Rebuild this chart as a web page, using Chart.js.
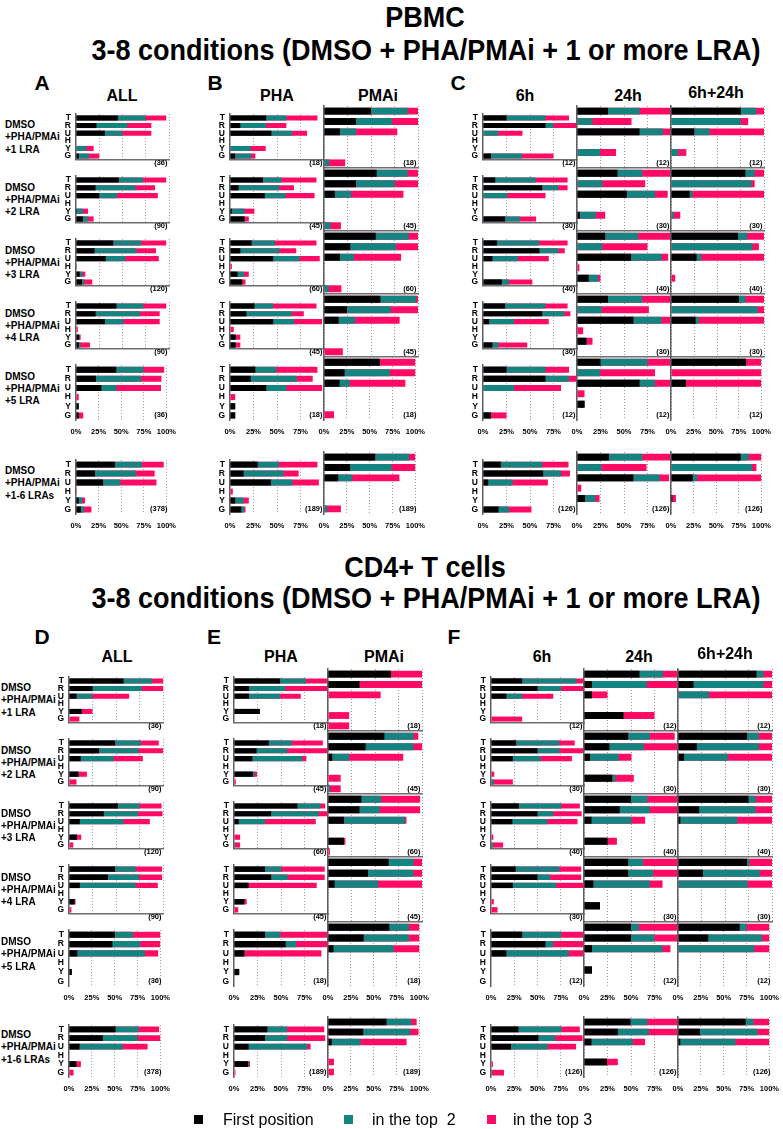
<!DOCTYPE html>
<html>
<head>
<meta charset="utf-8">
<script src="https://cdn.jsdelivr.net/npm/chart.js@4.4.1/dist/chart.umd.min.js"></script>
<style>
  body { margin: 0; width: 783px; height: 1129px; position: relative; background: #fff; overflow: hidden;
         font-family: 'Liberation Sans', Arial, sans-serif; color: #000; }
  canvas { position: absolute; }
  .lbl { position: absolute; white-space: pre; line-height: 1; }
</style>
</head>
<body>
<script>
// ---- categories / labels ----
const categories = ['T', 'R', 'U', 'H', 'Y', 'G'];
const rowNames = ['+1 LRA', '+2 LRA', '+3 LRA', '+4 LRA', '+5 LRA', '+1-6 LRAs'];
const columnNames = ['ALL', 'PHA', 'PMAi', '6h', '24h', '6h+24h'];
const countsAll = [36, 90, 120, 90, 36, 378];
const countsStim = [18, 45, 60, 45, 18, 189];
const countsTime = [12, 30, 40, 30, 12, 126];
const xTickValues = [0, 25, 50, 75, 100];

// ---- PBMC (% cumulative: first / top 2 / top 3), rows = 1..5 LRA, 1-6 LRAs; values T,R,U,H,Y,G ----
const pbmcAllFirst = [[45,22,31,0,0,3],[46,21,25,0,1,7.5],[40,20,32,0,4,6.5],[43.5,21,31,0,3.5,3],[44.5,22,28,0,3,3],[43,21,30,0,3,5.5]];
const pbmcAllTop2  = [[75,55,50,0,11,14],[72,64,44,0,7.5,13],[70,65,53,0,7,9],[72.5,69,51,0,3.5,5],[74.5,72,44.5,0,3,3],[73,66,49,0,7,9]];
const pbmcAllTop3  = [[97,81,81,0,19,25],[97,85,88,0,13,19],[97,86,89,1,10,17.5],[97,90,90,2,5,15],[97.5,94.5,94,3,3,8],[97,87,89,1,10,17]];

const pbmcPhaFirst = [[38.5,11,44,0,0,5.5],[35,9,37,0,2,15.5],[23,11,46,0,8,13],[26,17.5,46,0,6,6],[27,22,38.5,0,5.5,5.5],[29.5,14.5,43.5,0,5.5,12]];
const pbmcPhaTop2  = [[60,38.5,66,0,22,22.5],[55,52.5,59,0,15.5,15.5],[48,52.5,74,0,15,13],[46,65.5,68,0,6,6],[49.5,71,60,0,5.5,5.5],[52,57,66.5,0,14.5,15]];
const pbmcPhaTop3  = [[93,60,82,0,38,27],[92,68,90,0,26,20],[92,70.5,95.5,2,20,16.5],[92,78.5,98,4,11,11],[93,88,98,5.5,5.5,5.5],[93,73,94.5,3,20,16.5]];

const pbmcPmaiFirst = [[50,34,17,0,0,0],[56,34,11.5,0,0,0],[55,28,17,0,0,0],[60,24.5,15.5,0,0,0],[61,22.5,17,0,0,0],[56,28.5,15.5,0,0,0]];
const pbmcPmaiTop2  = [[89,72.5,34,0,0,5.5],[89,75.5,29,0,0,7],[90,76.5,32,0,0,5],[98,71,33,0,0,0],[61,72,28,0,0,0],[93,74,31,0,0,3.5]];
const pbmcPmaiTop3  = [[100,100,78,0,0,22.5],[100,100,84.5,0,0,18],[100,100,82,0,0,18.5],[100,100,80.5,0,0,20],[100,100,89,0,0,11],[100,100,82.5,0,0,18.5]];

const pbmc6hFirst = [[25,66.5,0,0,0,8.5],[13,63,0,0,0,23.5],[15,60,10,0,0,20],[23.5,63,6.5,0,0,10],[25,66.5,0,0,0,8.5],[19,64,5.5,0,0,16.5]];
const pbmc6hTop2  = [[66.5,75,16.5,0,0,41.5],[56,80,26,0,0,39.5],[60,80,37,0,0,27.5],[66.5,86.5,33,0,0,16.5],[66.5,91.5,33,0,0,8.5],[63,83,31.5,0,0,27.5]];
const pbmc6hTop3  = [[91.5,100,42,0,0,75],[90,90,66.5,0,0,56.5],[90,87,70,0,0,52.5],[90,93,70,0,0,47],[91.5,100,83,0,0,25],[91,92.5,69,0,0,51.5]];

const pbmc24hFirst = [[33,0,66.5,0,0,0],[43,0,53,0,3,0],[30,0,57.5,0,12.5,0],[33,0,60,0,10,0],[25,0,66.5,0,8,0],[34,0,60,0,8.5,0]];
const pbmc24hTop2  = [[66.5,16.5,91.5,0,24.5,0],[69.5,27,83,0,20,0],[65,27,90,0,22.5,0],[69.5,26.5,90,0,10,0],[75,24.5,83,0,8,0],[69.5,26,88,0,19.5,0]];
const pbmc24hTop3  = [[100,58,99,0,41.5,0],[100,72.5,96.5,0,30,0],[100,75,97,2.5,25,0],[100,76.5,99,6.5,16.5,0],[100,83,100,8,8,0],[100,74,98,4.5,24,0]];

const pbmcBothFirst = [[75,0,25,0,0,0],[80,0,20,0,0,0],[72,0,27.5,0,0,0],[73,0,26.5,0,0,0],[83,0,16.5,0,0,0],[77,0,24,0,1.5,0]];
const pbmcBothTop2  = [[91.5,75,41.5,0,7.5,0],[90,86.5,23,0,3,0],[82,87.5,32.5,0,0,0],[80,93,30,0,0,0],[83,0,16.5,0,0,0],[86,89.5,29,0,1.5,0]];
const pbmcBothTop3  = [[100,83,100,0,16.5,0],[100,90,100,0,10,0],[100,94.5,100,0,4.5,0],[100,100,100,0,0,0],[100,100,100,0,0,0],[100,94.5,100,0,5.5,0]];

// ---- CD4+ T cells ----
const cd4AllFirst = [[58,25,8,0,13.5,0],[49,32,12.5,0,10,0],[52,37,11.5,0,8.5,0],[49,41.5,11.5,0,6,0],[50,47.5,9,0,3,0],[51,37,11.5,0,8,0]];
const cd4AllTop2  = [[88.5,77.5,25,0,13.5,0],[76.5,74,47.5,0,10.5,0],[75,73.5,58,0,8.5,0],[71,74.5,71,0,6,0],[70,78,83,0,3,0],[76,75,59,0,8,0]];
const cd4AllTop3  = [[100,100,64,0,25,11],[95.5,100,78.5,0,19,8],[98.5,99.5,86,0,13,4.5],[99,99,94.5,0,7,2.5],[100,100,97.5,0,3,0],[98.5,100,86,0,13,5]];

const cd4PhaFirst = [[49,16,16,0,27.5,0],[37,24,19.5,0,20,0],[67.5,39.5,5,0,0,0],[33,39.5,15.5,0,11,0],[33,55,11,0,5.5,0],[35.5,33,15.5,0,15,0]];
const cd4PhaTop2  = [[76.5,54.5,49,0,27.5,0],[61.5,56.5,72.5,0,22,0],[92,90,33,0,0,1.5],[50.5,57,15.5,0,11,0],[49.5,66,11,0,5.5,0],[56.5,56.5,78,0,16,0]];
const cd4PhaTop3  = [[100,100,71,0,27.5,0],[94.5,100,77,0,24.5,2],[97,100,87,0,6.5,6.5],[96.5,96.5,88,0,13.5,4.5],[100,100,93,0,5.5,0],[96,97,81.5,0,17,1.5]];

const cd4PmaiFirst = [[67,33.5,0,0,0,0],[60,40,4.5,0,0,0],[35.5,33.5,17,0,17,0],[64.5,42.5,7,0,0,0],[67,39,6,0,0,0],[64,38.5,4,0,0,0]];
const cd4PmaiTop2  = [[67,33.5,0,0,0,0],[91,91,22.5,0,0,2.5],[56.5,55,82,0,17,0],[91,91,53.5,0,0,0],[88.5,88.5,72,0,0,0],[91,90,35.5,0,0,0]];
const cd4PmaiTop3  = [[100,100,56,0,22.5,22.5],[96,100,80,0,13.5,13.5],[98,98,83.5,0,18.5,2],[100,100,100,0,0,0],[100,100,100,0,0,0],[97,99,86,0,6.5,6.5]];

const cd46hFirst = [[33.5,50,16.5,0,0,0],[27,50,23.5,0,0,0],[30,50,23,0,0,0],[26.5,50,23.5,0,0,0],[33.5,58.5,16.5,0,0,0],[29.5,51,21.5,0,0,0]];
const cd46hTop2  = [[92,75.5,33.5,0,0,0],[73.5,73.5,53.5,0,0,3],[75.5,67,60.5,0,0,2.5],[73.5,63.5,70,0,0,0],[75.5,67,83.5,0,0,0],[76,69,61,0,0,1.5]];
const cd46hTop3  = [[100,100,67,0,0,33.5],[90,100,87,0,3.5,23.5],[95.5,97.5,93,0,2.5,13],[97,97,100,0,3,7],[100,100,100,0,0,0],[95.5,98.5,91.5,0,2,14]];

const cd424hFirst = [[59,8.5,8.5,0,42,0],[47,27,6.5,0,30,0],[50,38,8,0,25,0],[47,47,10,0,17,0],[50,50,8.5,0,8.5,0],[49.5,36,8,0,24.5,0]];
const cd424hTop2  = [[84,67,8.5,0,42,0],[70,63.5,37,0,33.5,0],[67.5,70,50.5,0,25,0],[63,73.5,70,0,17,0],[58.5,75,83.5,0,8.5,0],[67.5,69,52,0,24.5,0]];
const cd424hTop3  = [[100,100,25,0,75,0],[96.5,100,50.5,0,53,0],[100,100,65,0,35,0],[100,100,83.5,0,17,0],[100,100,92,0,8.5,0],[100,100,65,0,36,0]];

const cd4BothFirst = [[83.5,16.5,0,0,0,0],[73.5,20,6.5,0,0,0],[75,22.5,2.5,0,0,0],[73.5,26.5,0,0,0,0],[67.5,33,0,0,0,0],[74,24,2.5,0,0,0]];
const cd4BothTop2  = [[91,91,33,0,0,0],[86,86,53,0,0,0],[82.5,82.5,63,0,0,0],[76,87,74,0,0,0],[75,92,83.5,0,0,0],[82.5,87,63,0,0,0]];
const cd4BothTop3  = [[100,100,100,0,0,0],[100,100,100,0,0,0],[100,100,100,0,0,0],[100,100,100,0,0,0],[100,100,100,0,0,0],[100,100,100,0,0,0]];

// ---- styling ----
const colFirst = '#000000';
const colTop2 = '#148480';
const colTop3 = '#ff0a64';
const FONT = "'Liberation Sans', Arial, sans-serif";
Chart.defaults.font.family = FONT;

function place(text, x, y, css, align, extra) {
  const d = document.createElement('div');
  d.className = 'lbl';
  d.textContent = text;
  d.style.cssText += css;
  d.style.left = x + 'px';
  d.style.top = y + 'px';
  const tx = align === 'l' ? '0' : align === 'r' ? '-100%' : '-50%';
  d.style.transform = 'translate(' + tx + ',-50%)' + (extra || '');
  document.body.appendChild(d);
  return d;
}

const Y_W = 16, R_P = 14, T_P = 2, B_P = 2;

function panel(left, top, w, h, first, top2, top3, o) {
  const xH = o.xTicks ? 20 : 0;
  const W = Y_W + w + R_P, H = T_P + h + xH + B_P;
  const cv = document.createElement('canvas');
  cv.width = W; cv.height = H;
  cv.style.width = W + 'px'; cv.style.height = H + 'px';
  cv.style.left = (left - Y_W) + 'px';
  cv.style.top = (top - T_P) + 'px';
  document.body.appendChild(cv);
  new Chart(cv, {
    type: 'bar',
    data: {
      labels: categories,
      datasets: [
        { label: 'First position', data: first, backgroundColor: colFirst },
        { label: 'in the top 2', data: top2, backgroundColor: colTop2 },
        { label: 'in the top 3', data: top3, backgroundColor: colTop3 }
      ]
    },
    options: {
      indexAxis: 'y',
      responsive: false,
      animation: false,
      devicePixelRatio: 1,
      layout: { padding: { left: 0, right: R_P, top: T_P, bottom: B_P } },
      datasets: { bar: { grouped: false, barPercentage: 0.66, categoryPercentage: 1, borderWidth: 0 } },
      plugins: { legend: { display: false }, tooltip: { enabled: false } },
      scales: {
        x: {
          min: 0, max: 100,
          afterFit: s => { s.height = xH; },
          afterBuildTicks: s => { s.ticks = xTickValues.map(v => ({ value: v })); },
          ticks: {
            display: o.xTicks, autoSkip: false, maxRotation: 0, padding: 7,
            font: { size: 7.5, weight: 'bold' }, color: '#000',
            callback: v => (v === 100 && !o.show100) ? '' : v + '%'
          },
          grid: { color: c => (c.tick && c.tick.value === 0) ? 'rgba(0,0,0,0)' : '#9c9c9c', lineWidth: 1, drawTicks: false },
          border: { display: o.sep, color: '#6e6e6e', width: 1.5, dash: [1, 2] }
        },
        y: {
          afterFit: s => { s.width = Y_W; },
          ticks: { display: o.yTicks, autoSkip: false, padding: 5, font: { size: 8.5, weight: 'bold' }, color: '#000' },
          grid: { display: false, drawTicks: false },
          border: { display: true, color: '#5e5e5e', width: 1.5 }
        }
      }
    }
  });
}

const sections = [
  {
    title: 'PBMC', titleY: 17, subY: 50,
    letters: [['A', 42, 82], ['B', 215, 82], ['C', 458, 82]],
    headX: [122, 277, 378, 525, 628, 716], headY: 96,
    colLeft: [76, 230, 324, 483, 577, 671], colW: [93, 94, 94, 94, 94, 93],
    rowTop: [106, 168, 231, 294, 357, 452], rowH: [62, 63, 63, 63, 63, 62],
    labelX: 5,
    data: [[pbmcAllFirst, pbmcAllTop2, pbmcAllTop3], [pbmcPhaFirst, pbmcPhaTop2, pbmcPhaTop3],
           [pbmcPmaiFirst, pbmcPmaiTop2, pbmcPmaiTop3], [pbmc6hFirst, pbmc6hTop2, pbmc6hTop3],
           [pbmc24hFirst, pbmc24hTop2, pbmc24hTop3], [pbmcBothFirst, pbmcBothTop2, pbmcBothTop3]]
  },
  {
    title: 'CD4+ T cells', titleY: 567, subY: 598,
    letters: [['D', 42, 636], ['E', 214, 636], ['F', 454, 636]],
    headX: [117, 281, 384, 542, 639, 725], headY: 657,
    colLeft: [69, 234, 328, 491, 584, 678], colW: [94, 94, 94, 93, 94, 94],
    rowTop: [669, 731, 794, 857, 922, 1017], rowH: [62, 63, 63, 65, 64, 60],
    labelX: 1,
    data: [[cd4AllFirst, cd4AllTop2, cd4AllTop3], [cd4PhaFirst, cd4PhaTop2, cd4PhaTop3],
           [cd4PmaiFirst, cd4PmaiTop2, cd4PmaiTop3], [cd46hFirst, cd46hTop2, cd46hTop3],
           [cd424hFirst, cd424hTop2, cd424hTop3], [cd4BothFirst, cd4BothTop2, cd4BothTop3]]
  }
];

const countsByCol = [countsAll, countsStim, countsStim, countsTime, countsTime, countsTime];
const yLabelCols = [0, 1, 3];
const show100Cols = [0, 2, 5];

sections.forEach(sec => {
  place(sec.title, 425, sec.titleY, 'font-size:30px;font-weight:bold;', 'c', ' scaleX(0.9)');
  place('3-8 conditions (DMSO + PHA/PMAi + 1 or more LRA)', 426, sec.subY, 'font-size:30px;font-weight:bold;', 'c', ' scaleX(0.9)');
  sec.letters.forEach(([t, x, y]) => place(t, x, y, 'font-size:21px;font-weight:bold;', 'c'));
  columnNames.forEach((n, c) => place(n, sec.headX[c], sec.headY - (c === 5 ? 3 : 0), 'font-size:16px;font-weight:bold;', 'c'));

  rowNames.forEach((rn, r) => {
    const top = sec.rowTop[r], h = sec.rowH[r];
    place('DMSO\n+PHA/PMAi\n' + rn, sec.labelX, top + h / 2, 'font-size:10px;font-weight:bold;line-height:12.3px;', 'l');
    columnNames.forEach((cn, c) => {
      const [f, t2, t3] = sec.data[c];
      panel(sec.colLeft[c], top, sec.colW[c], h, f[r], t2[r], t3[r], {
        xTicks: r >= 4,
        show100: show100Cols.includes(c),
        yTicks: yLabelCols.includes(c),
        sep: r < 4
      });
      place('(' + countsByCol[c][r] + ')', sec.colLeft[c] + sec.colW[c] - 1.5, top + h * 11 / 12,
            'font-size:7.5px;font-weight:bold;', 'r');
    });
  });
});

// legend
const legendItems = [['First position', colFirst, 194, 223], ['in the top  2', colTop2, 344, 372], ['in the top 3', colTop3, 487, 513]];
legendItems.forEach(([t, col, sx, tx]) => {
  const s = document.createElement('div');
  s.style.cssText = 'position:absolute;width:9px;height:9px;top:1115px;left:' + sx + 'px;background:' + col + ';';
  document.body.appendChild(s);
  place(t, tx, 1120, 'font-size:16px;', 'l');
});
</script>
</body>
</html>
